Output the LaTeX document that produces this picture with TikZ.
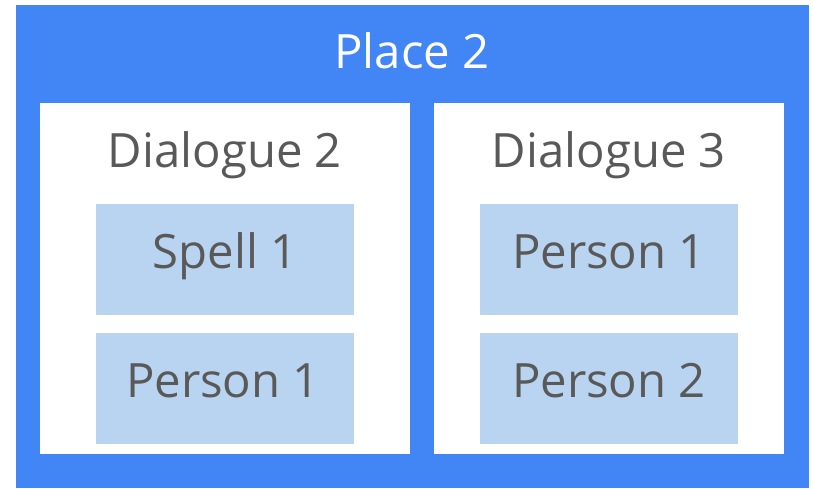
\documentclass[tikz,border=0pt]{standalone}
\usepackage{fontspec}
\setmainfont{Open Sans}
\definecolor{gblue}{HTML}{4285F4}
\definecolor{lblue}{HTML}{B9D4F0}
\definecolor{tgray}{HTML}{595959}
\begin{document}
\begin{tikzpicture}[x=1pt,y=-1pt,
  place/.style={fill=gblue,draw=none},
  dlg/.style={fill=white,draw=none},
  item/.style={fill=lblue,draw=none},
  lbl/.style={anchor=base,inner sep=0pt,font=\fontsize{47.3}{56}\selectfont,text=tgray},
  plbl/.style={lbl,text=white}]
\useasboundingbox (0,0) rectangle (813,488);
\fill[white] (0,0) rectangle (813,488);
\path[place] (16,5) rectangle (809,488);
\path[dlg] (40,103) rectangle (410,454);
\path[dlg] (434,103) rectangle (784,454);
\path[item] (96,204) rectangle (354,315);
\path[item] (96,333) rectangle (354,444);
\path[item] (480,204) rectangle (738,315);
\path[item] (480,333) rectangle (738,444);
\node[plbl] (p2) at (412,68) {Place 2};
\node[lbl] (d2) at (225,167) {Dialogue 2};
\node[lbl] (d3) at (609,167) {Dialogue 3};
\node[lbl] (s1) at (225,268) {Spell 1};
\node[lbl] (pa1) at (223,397) {Person 1};
\node[lbl] (pb1) at (609,268) {Person 1};
\node[lbl] (pb2) at (609,397) {Person 2};
\end{tikzpicture}
\end{document}
